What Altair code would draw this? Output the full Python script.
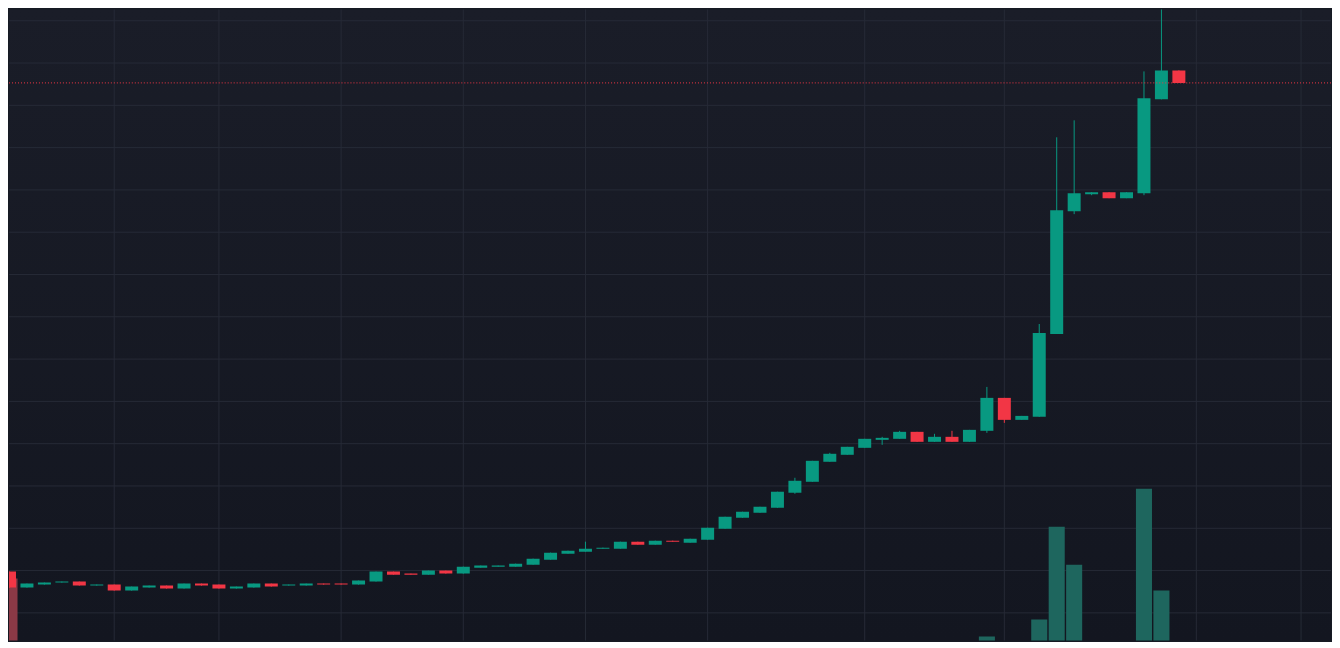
import altair as alt
import pandas as pd

# ---- data (68 daily candles) ----
opens = [1.975, 1.597, 1.668, 1.716, 1.739, 1.645, 1.668, 1.526, 1.597, 1.645,
         1.574, 1.692, 1.668, 1.574, 1.597, 1.692, 1.645, 1.645, 1.692, 1.692,
         1.668, 1.739, 1.975, 1.928, 1.904, 1.999, 1.928, 2.069, 2.093, 2.093,
         2.140, 2.258, 2.400, 2.447, 2.518, 2.518, 2.683, 2.612, 2.707, 2.660,
         2.730, 2.990, 3.249, 3.367, 3.485, 3.840, 4.099, 4.572, 4.737, 4.902,
         5.091, 5.115, 5.280, 5.044, 5.162, 5.044, 5.304, 6.083, 5.563, 5.634,
         7.594, 10.497, 10.898, 10.946, 10.804, 10.922, 13.141, 13.826]
closes = [1.597, 1.692, 1.716, 1.739, 1.645, 1.668, 1.526, 1.621, 1.645, 1.574,
          1.692, 1.645, 1.574, 1.621, 1.692, 1.621, 1.668, 1.692, 1.668, 1.668,
          1.763, 1.975, 1.904, 1.904, 1.999, 1.928, 2.093, 2.117, 2.117, 2.164,
          2.282, 2.424, 2.471, 2.518, 2.542, 2.683, 2.612, 2.707, 2.683, 2.754,
          3.014, 3.273, 3.391, 3.509, 3.864, 4.123, 4.595, 4.761, 4.926, 5.115,
          5.138, 5.280, 5.044, 5.162, 5.044, 5.327, 6.083, 5.563, 5.657, 7.617,
          10.521, 10.922, 10.946, 10.804, 10.946, 13.165, 13.826, 13.53]
highs = [1.975, 1.692, 1.716, 1.739, 1.739, 1.668, 1.668, 1.621, 1.645, 1.645,
         1.692, 1.692, 1.668, 1.621, 1.692, 1.692, 1.668, 1.692, 1.692, 1.692,
         1.763, 1.975, 1.975, 1.928, 1.999, 1.999, 2.093, 2.117, 2.117, 2.164,
         2.282, 2.424, 2.471, 2.683, 2.542, 2.683, 2.683, 2.707, 2.707, 2.754,
         3.014, 3.273, 3.391, 3.509, 3.864, 4.194, 4.595, 4.784, 4.926, 5.115,
         5.162, 5.304, 5.280, 5.233, 5.304, 5.327, 6.342, 6.083, 5.657, 7.830,
         12.244, 12.645, 10.946, 10.946, 10.946, 13.802, 15.9, 13.826]
lows = [1.597, 1.597, 1.668, 1.716, 1.645, 1.645, 1.526, 1.526, 1.597, 1.574,
        1.574, 1.645, 1.574, 1.574, 1.597, 1.621, 1.645, 1.645, 1.668, 1.668,
        1.668, 1.739, 1.904, 1.904, 1.904, 1.928, 1.928, 2.069, 2.093, 2.093,
        2.140, 2.258, 2.400, 2.447, 2.518, 2.518, 2.612, 2.612, 2.683, 2.660,
        2.730, 2.990, 3.249, 3.367, 3.485, 3.816, 4.099, 4.572, 4.737, 4.902,
        4.973, 5.115, 5.044, 5.044, 5.044, 5.044, 5.256, 5.492, 5.563, 5.634,
        7.594, 10.427, 10.875, 10.804, 10.804, 10.875, 13.141, 13.53]
volumes = [55, 8, 6, 5, 7, 4, 9, 7, 5, 6,
           7, 5, 6, 4, 6, 5, 4, 5, 4, 4,
           6, 12, 7, 5, 8, 6, 10, 6, 5, 7,
           10, 12, 8, 9, 6, 11, 8, 9, 6, 8,
           14, 15, 11, 10, 16, 17, 18, 12, 11, 13,
           9, 11, 14, 9, 12, 15, 26, 18, 10, 34.5,
           81, 62, 12, 14, 13, 100, 49, 16]
xgrid = [6, 12, 19, 26, 33, 40, 49, 57, 68, 74]      # time grid (bar index)
ygrid = list(range(1, 16))                            # price grid

# ---- styling ----
W, H = 1324, 632
UP, DOWN = "#089981", "#f23645"
VUP, VDOWN = "#1e665e", "#8b3946"
GRID = "#262a36"

df = pd.DataFrame({"i": list(range(len(opens))), "open": opens, "close": closes,
                   "high": highs, "low": lows, "volume": volumes})
df["dir"] = ["up" if c >= o else "down" for o, c in zip(opens, closes)]

xs = alt.Scale(domain=[-0.0286, 75.716], nice=False, zero=False)
ps = alt.Scale(domain=[0.346, 15.266], nice=False, zero=False)
vs = alt.Scale(domain=[24, 340], nice=False, zero=False)
candle_color = alt.Color("dir:N", scale=alt.Scale(domain=["up", "down"], range=[UP, DOWN]), legend=None)
vol_color = alt.Color("dir:N", scale=alt.Scale(domain=["up", "down"], range=[VUP, VDOWN]), legend=None)

bg = alt.Chart(alt.Data(values=[{"a": 1}])).mark_rect(
    color=alt.Gradient(gradient="linear",
                       stops=[alt.GradientStop(color="#1a1d28", offset=0),
                              alt.GradientStop(color="#131620", offset=1)],
                       x1=0, x2=0, y1=0, y2=1)
).encode(x=alt.value(0), x2=alt.value(W), y=alt.value(0), y2=alt.value(H))

vgrid = alt.Chart(pd.DataFrame({"x": xgrid})).mark_rule(color=GRID, strokeWidth=1).encode(
    x=alt.X("x:Q", scale=xs, axis=None))
hgrid = alt.Chart(pd.DataFrame({"y": ygrid})).mark_rule(color=GRID, strokeWidth=1).encode(
    y=alt.Y("y:Q", scale=ps, axis=None))

vol = alt.Chart(df).transform_calculate(
    xa="datum.i - 0.46", xb="datum.i + 0.46", base="0"
).mark_rect(clip=True).encode(
    x=alt.X("xa:Q", scale=xs, axis=None), x2="xb:Q",
    y=alt.Y("volume:Q", scale=vs, axis=None), y2="base:Q",
    color=vol_color)

wick = alt.Chart(df).mark_rule(clip=True, strokeWidth=1).encode(
    x=alt.X("i:Q", scale=xs, axis=None),
    y=alt.Y("low:Q", scale=ps, axis=None), y2="high:Q",
    color=candle_color)

body = alt.Chart(df).transform_calculate(
    xa="datum.i - 0.372", xb="datum.i + 0.372"
).mark_rect(clip=True).encode(
    x=alt.X("xa:Q", scale=xs, axis=None), x2="xb:Q",
    y=alt.Y("open:Q", scale=ps, axis=None), y2="close:Q",
    color=candle_color)

last = alt.Chart(pd.DataFrame({"p": [closes[-1]]})).mark_rule(
    color=DOWN, strokeDash=[1, 2], strokeWidth=1).encode(
    y=alt.Y("p:Q", scale=ps, axis=None))

chart = alt.layer(bg, vgrid, hgrid, vol, wick, body, last).resolve_scale(
    y="independent", color="independent"
).properties(width=W, height=H, padding=0, background="#161a23").configure_view(stroke=None)

chart.save("out.html", embed_options={"renderer": "svg", "actions": False})
